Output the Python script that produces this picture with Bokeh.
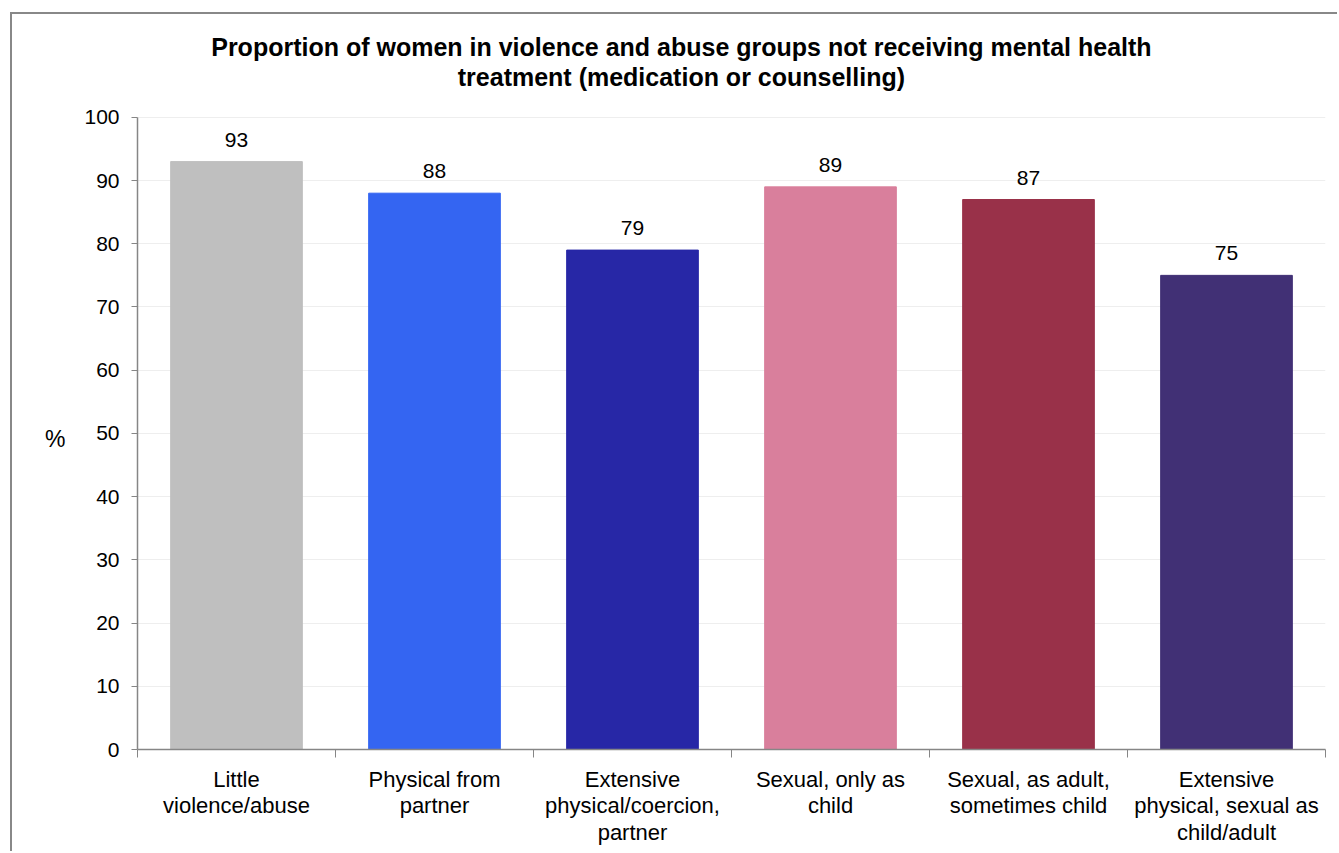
from bokeh.plotting import figure
from bokeh.models import ColumnDataSource, FixedTicker, LabelSet, Label, Range1d
from bokeh.core.properties import value
from bokeh.embed import file_html
from bokeh.resources import INLINE

categories = [
    "Little\nviolence/abuse",
    "Physical from\npartner",
    "Extensive\nphysical/coercion,\npartner",
    "Sexual, only as\nchild",
    "Sexual, as adult,\nsometimes child",
    "Extensive\nphysical, sexual as\nchild/adult",
]
values = [93, 88, 79, 89, 87, 75]
colors = ["#bfbfbf", "#3465f2", "#2727a6", "#d97f9c", "#993149", "#413075"]
y_ticks = list(range(0, 101, 10))
title_lines = [
    "Proportion of women in violence and abuse groups not receiving mental health",
    "treatment (medication or counselling)",
]

n = len(categories)
xs = [i + 0.5 for i in range(n)]
src = ColumnDataSource(dict(x=xs, top=values, color=colors,
                            label=[str(v) for v in values]))

FONT = "Liberation Sans"

# frame extends above 100 so the title can be drawn inside it
p = figure(width=1327, height=839, output_backend="svg", toolbar_location=None,
           x_range=Range1d(0, n), y_range=Range1d(0, 115),
           min_border_left=125, min_border_right=14, min_border_top=8,
           min_border_bottom=104)
p.margin = (12, 0, 0, 10)
p.styles = {"border-left": "2px solid #888888", "border-top": "2px solid #888888"}
p.outline_line_color = None
p.background_fill_color = "white"
p.border_fill_color = "white"

p.vbar(x="x", top="top", width=0.665, color="color", source=src)

labels = LabelSet(x="x", y="top", text="label", source=src, text_align="center",
                  text_baseline="alphabetic", y_offset=15,
                  text_font=value(FONT), text_font_size="21px", text_color="#000000")
p.add_layout(labels)

# x axis
xa = p.xaxis[0]
xa.ticker = FixedTicker(ticks=xs, minor_ticks=list(range(n + 1)))
xa.major_label_overrides = {x: c for x, c in zip(xs, categories)}
xa.major_tick_in = 0
xa.major_tick_out = 0
xa.minor_tick_in = 0
xa.minor_tick_out = 8
xa.minor_tick_line_color = "#868686"
xa.axis_line_color = "#868686"
xa.axis_line_width = 1.5
xa.major_label_text_font = FONT
xa.major_label_text_font_size = "22px"
xa.major_label_text_color = "#000000"
xa.major_label_standoff = 9
xa.major_label_text_line_height = 1.06

# y axis
ya = p.yaxis[0]
ya.ticker = FixedTicker(ticks=y_ticks, minor_ticks=[])
ya.bounds = (0, 100)
ya.major_tick_in = 0
ya.major_tick_out = 6
ya.major_tick_line_color = "#868686"
ya.axis_line_color = "#868686"
ya.axis_line_width = 1.5
ya.major_label_text_font = FONT
ya.major_label_text_font_size = "21px"
ya.major_label_text_color = "#000000"
ya.major_label_standoff = 12
# leading blank lines move the "%" down to the middle of the 0-100 span
ya.axis_label = "\n\n\n\n%"
ya.axis_label_orientation = "horizontal"
ya.axis_label_text_font = FONT
ya.axis_label_text_font_size = "23px"
ya.axis_label_text_line_height = 1.02
ya.axis_label_text_font_style = "normal"
ya.axis_label_text_color = "#000000"
ya.axis_label_standoff = 16

p.xgrid.grid_line_color = None
p.ygrid.grid_line_color = "#eeeeee"
p.ygrid.ticker = FixedTicker(ticks=y_ticks)

# title lines
for i, t in enumerate(title_lines):
    p.add_layout(Label(x=2.747, y=111.2 - i * 4.75, text=t, text_align="center",
                       text_baseline="middle", text_font=FONT,
                       text_font_size="25px", text_font_style="bold",
                       text_color="#000000"))

open("out.html", "w").write(file_html(p, INLINE))
